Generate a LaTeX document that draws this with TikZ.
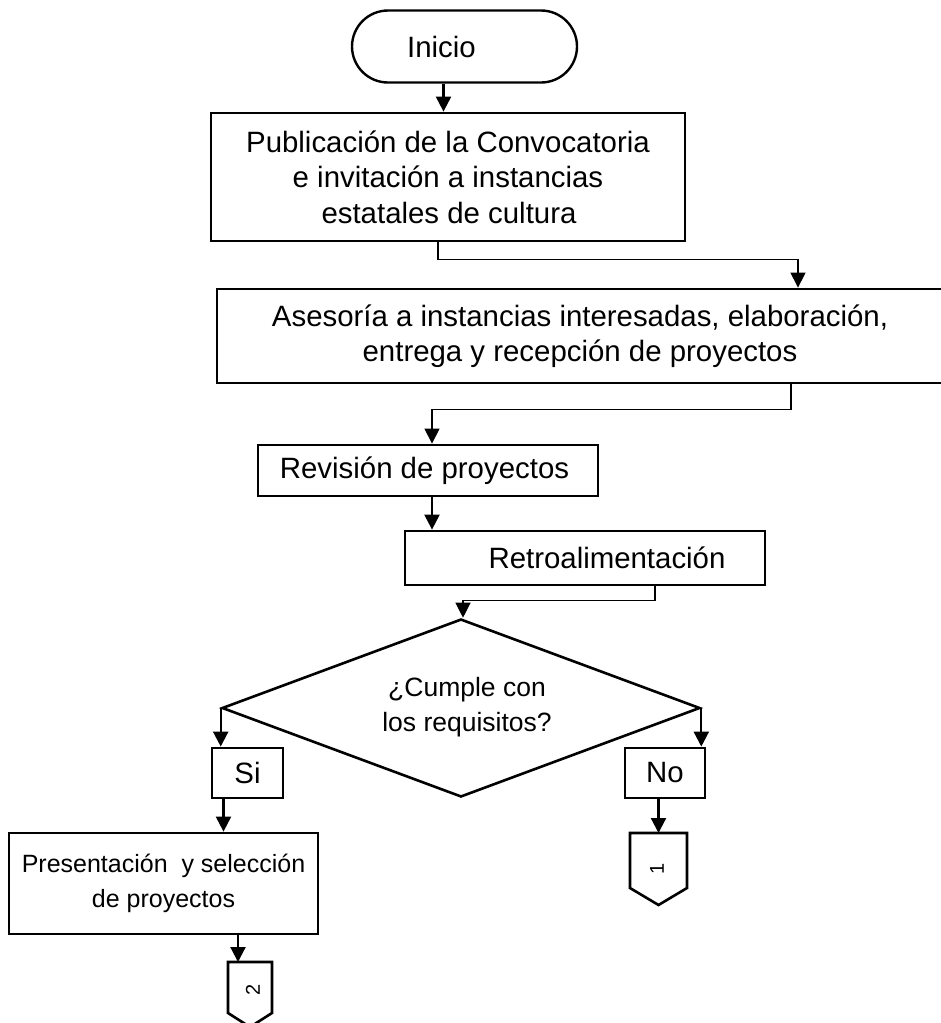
\documentclass[tikz,border=0pt]{standalone}
\usepackage{fontspec}
\setmainfont{Liberation Sans}
\usetikzlibrary{shapes.geometric,arrows.meta}
\begin{document}
\begin{tikzpicture}[x=1pt,y=-1pt,
  txt/.style={font=\fontsize{29.4}{35.5}\selectfont,align=center},
  box/.style={txt,draw,line width=2.8pt,inner sep=0pt},
  arr/.style={line width=2.2pt,-{Triangle[width=15pt,length=15pt]}},
  thinarr/.style={line width=1.2pt,-{Triangle[width=15pt,length=15pt]}},
  page/.style={inner sep=0pt,outer sep=0pt},
  pagebox/.style={line width=2.6pt,line join=miter},
  num/.style={font=\fontsize{20}{20}\selectfont,rotate=90,inner sep=0pt}
  ]
\useasboundingbox (0,0) rectangle (940,1023);

\node[box,rounded corners=36pt,line width=2.4pt,minimum width=225pt,minimum height=72pt] (term) at (464.5,46.5) {Inicio\hspace*{46pt}};

\node[box,minimum width=474pt,minimum height=128pt] (b1) at (448,177)
  {Publicación de la Convocatoria\\e invitación a instancias\\estatales de cultura\hspace*{-2pt}};

\node[box,minimum width=726pt,minimum height=94pt] (b2) at (580,336)
  {Asesoría a instancias interesadas, elaboración,\\entrega y recepción de proyectos};

\node[box,minimum width=340pt,minimum height=51pt] (b3) at (428,470.5) {Revisión de proyectos\hspace*{7pt}};

\node[box,minimum width=360pt,minimum height=54pt] (b4) at (585,558) {\hspace*{44pt}Retroalimentación};

\node[draw,shape=diamond,line width=2.6pt,inner sep=0pt,minimum width=478pt,minimum height=178pt] (d) at (461,708) {};
\node[txt,font=\fontsize{26.5}{35}\selectfont] (dt) at (467,707.5) {¿Cumple con\\los requisitos?};

\node[box,minimum width=71pt,minimum height=50pt] (si) at (247.5,773) {Si};
\node[box,minimum width=80pt,minimum height=50pt] (no) at (665,773) {No};

\node[box,font=\fontsize{25}{35}\selectfont,minimum width=309pt,minimum height=101pt] (b5) at (163.5,883.5)
  {Presentación~ y selección\\de proyectos};

% off-page connectors
\node[page,minimum width=57pt,minimum height=55pt] (c1) at (658.5,860.5) {};
\draw[pagebox] (c1.south west) -- (c1.north west) -- (c1.north east) -- (c1.south east)
  -- ([yshift=-17pt]c1.south) -- cycle;
\node[num] (n1) at (657,869) {1};

\node[page,minimum width=44pt,minimum height=51pt] (c2) at (250,987.5) {};
\draw[pagebox] (c2.south west) -- (c2.north west) -- (c2.north east) -- (c2.south east)
  -- ([yshift=-14pt]c2.south) -- cycle;
\node[num] (n2) at (253,990) {2};

% connectors
\draw[arr] ([xshift=-21pt]term.south) -- ([xshift=-21pt]term.south |- b1.north);
\draw[thinarr] ([xshift=-10pt]b1.south) -- ++(0,17) -| ([xshift=218pt]b2.north);
\draw[thinarr] ([xshift=211pt]b2.south) -- ++(0,25) -| ([xshift=4pt]b3.north);
\draw[arr] ([xshift=4pt]b3.south) -- ([xshift=4pt]b3.south |- b4.north);
\draw[thinarr] ([xshift=70pt]b4.south) -- ++(0,14) -| ([xshift=2pt]d.north);
\draw[arr] (d.west) -- (d.west |- si.north);
\draw[arr] (d.east) -- (d.east |- no.north);
\draw[arr] ([xshift=-24pt]si.south) -- ([xshift=-24pt]si.south |- b5.north);
\draw[arr] (c1.north |- no.south) -- (c1.north);
\draw[arr] ([xshift=-12pt]c2.north |- b5.south) -- ([xshift=-12pt]c2.north);
\end{tikzpicture}
\end{document}
